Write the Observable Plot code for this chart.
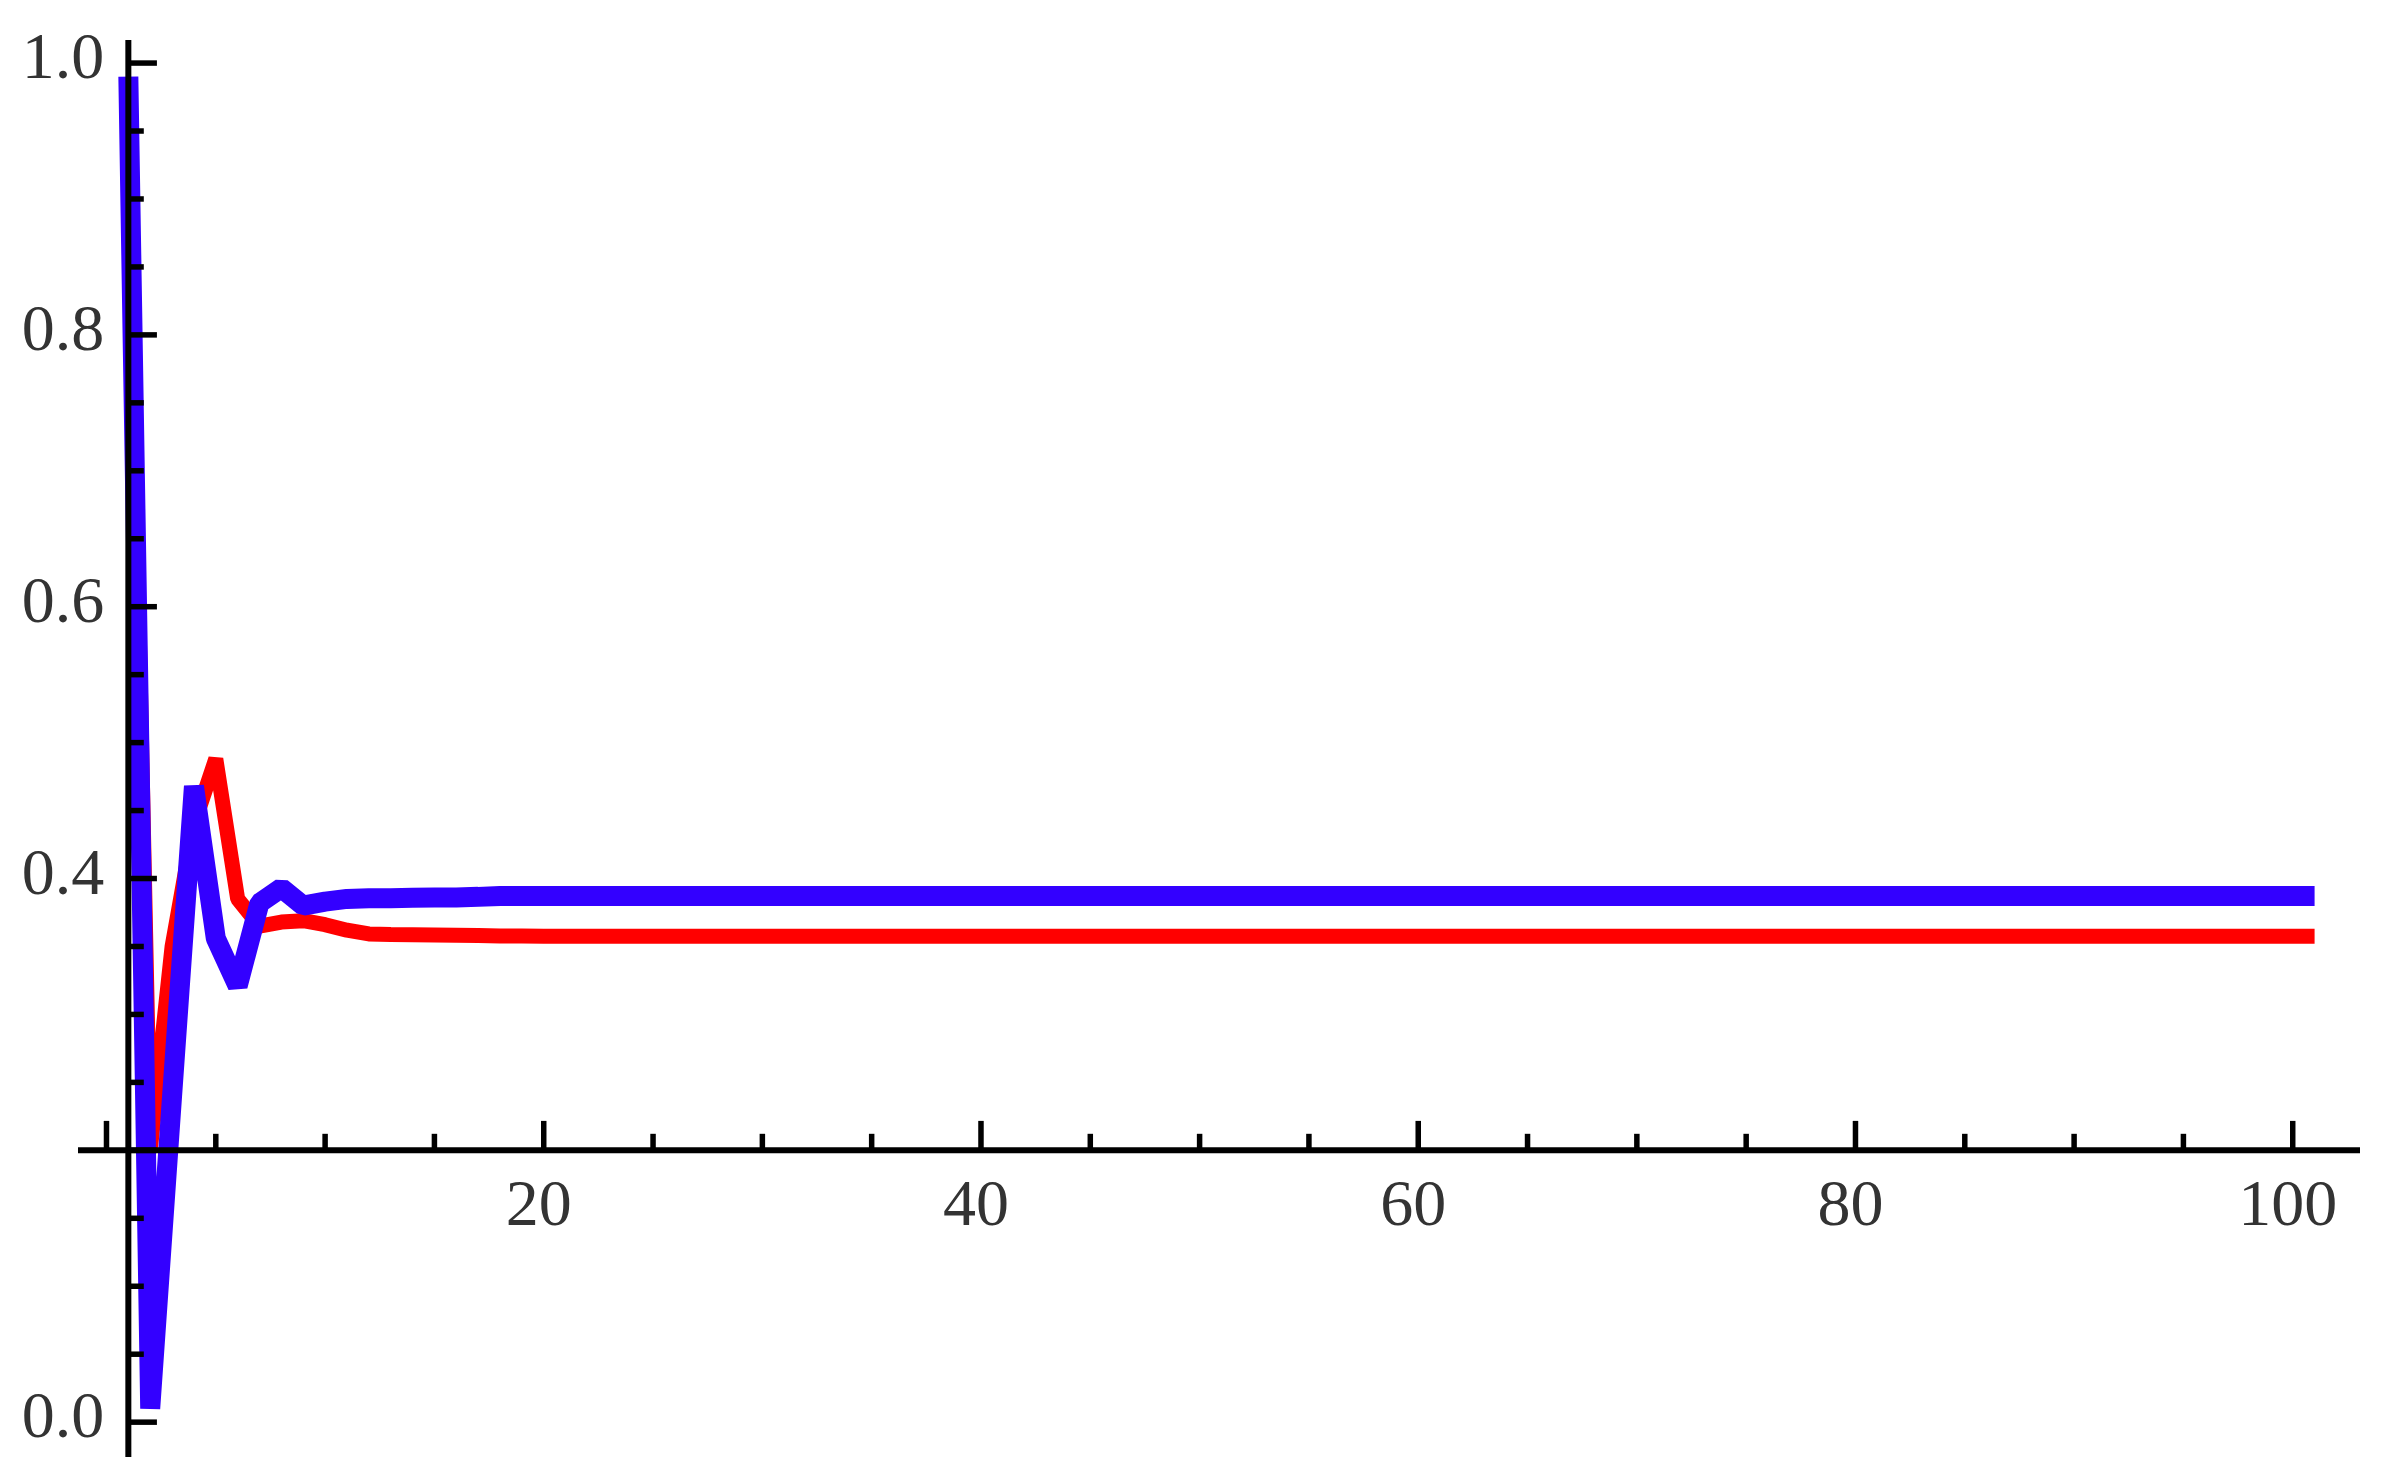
<!DOCTYPE html>
<html>
<head>
<meta charset="utf-8">
<script src="https://cdn.jsdelivr.net/npm/d3@7"></script>
<script src="https://cdn.jsdelivr.net/npm/@observablehq/plot@0.6"></script>
<style>
  html, body { margin: 0; padding: 0; background: #ffffff; }
  svg { display: block; }
</style>
</head>
<body>
<div id="chart"></div>
<script>
// Series values (index i corresponds to step i+1)
const blueSeries = [
  0.99, 0.01, 0.24, 0.468, 0.356, 0.321, 0.382, 0.393, 0.380, 0.383,
  0.385, 0.3855, 0.3855, 0.3858, 0.386, 0.386, 0.3865, 0.3872, 0.3872, 0.3872,
  0.3872, 0.3872, 0.3872, 0.3872, 0.3872, 0.3872, 0.3872, 0.3872, 0.3872, 0.3872,
  0.3872, 0.3872, 0.3872, 0.3872, 0.3872, 0.3872, 0.3872, 0.3872, 0.3872, 0.3872,
  0.3872, 0.3872, 0.3872, 0.3872, 0.3872, 0.3872, 0.3872, 0.3872, 0.3872, 0.3872,
  0.3872, 0.3872, 0.3872, 0.3872, 0.3872, 0.3872, 0.3872, 0.3872, 0.3872, 0.3872,
  0.3872, 0.3872, 0.3872, 0.3872, 0.3872, 0.3872, 0.3872, 0.3872, 0.3872, 0.3872,
  0.3872, 0.3872, 0.3872, 0.3872, 0.3872, 0.3872, 0.3872, 0.3872, 0.3872, 0.3872,
  0.3872, 0.3872, 0.3872, 0.3872, 0.3872, 0.3872, 0.3872, 0.3872, 0.3872, 0.3872,
  0.3872, 0.3872, 0.3872, 0.3872, 0.3872, 0.3872, 0.3872, 0.3872, 0.3872, 0.3872,
  0.3872
];
const redSeries = [
  0.96, 0.20, 0.35, 0.44, 0.488, 0.385, 0.365, 0.368, 0.369, 0.366,
  0.362, 0.3592, 0.3588, 0.3586, 0.3584, 0.3582, 0.3580, 0.3578, 0.3577, 0.3576,
  0.3575, 0.3575, 0.3575, 0.3575, 0.3575, 0.3575, 0.3575, 0.3575, 0.3575, 0.3575,
  0.3575, 0.3575, 0.3575, 0.3575, 0.3575, 0.3575, 0.3575, 0.3575, 0.3575, 0.3575,
  0.3575, 0.3575, 0.3575, 0.3575, 0.3575, 0.3575, 0.3575, 0.3575, 0.3575, 0.3575,
  0.3575, 0.3575, 0.3575, 0.3575, 0.3575, 0.3575, 0.3575, 0.3575, 0.3575, 0.3575,
  0.3575, 0.3575, 0.3575, 0.3575, 0.3575, 0.3575, 0.3575, 0.3575, 0.3575, 0.3575,
  0.3575, 0.3575, 0.3575, 0.3575, 0.3575, 0.3575, 0.3575, 0.3575, 0.3575, 0.3575,
  0.3575, 0.3575, 0.3575, 0.3575, 0.3575, 0.3575, 0.3575, 0.3575, 0.3575, 0.3575,
  0.3575, 0.3575, 0.3575, 0.3575, 0.3575, 0.3575, 0.3575, 0.3575, 0.3575, 0.3575,
  0.3575
];

// Axes origin and ticks
const axisOriginX = 1;
const axisOriginY = 0.2;
const xMajorTicks = [0, 20, 40, 60, 80, 100];
const xMinorTicks = [5, 10, 15, 25, 30, 35, 45, 50, 55, 65, 70, 75, 85, 90, 95];
const xTickLabels = [20, 40, 60, 80, 100];
const yMajorTicks = [0, 0.2, 0.4, 0.6, 0.8, 1.0];
const yMinorTicks = [0.05, 0.1, 0.15, 0.25, 0.3, 0.35, 0.45, 0.5, 0.55, 0.65, 0.7, 0.75, 0.85, 0.9, 0.95];
const yTickLabels = [0.0, 0.4, 0.6, 0.8, 1.0];

const blueData = blueSeries.map((v, i) => ({x: i + 1, y: v}));
const redData = redSeries.map((v, i) => ({x: i + 1, y: v}));

// tick lengths expressed in data units of the crossing axis
const xTickMajorLen = 0.0213, xTickMinorLen = 0.0118;
const yTickMajorLen = 1.33, yTickMinorLen = 0.73;

const labelFont = "Liberation Serif, Times New Roman, serif";
const labelColor = "#333333";

const chart = Plot.plot({
  width: 2390,
  height: 1477,
  marginLeft: 78,
  marginRight: 30,
  marginTop: 40,
  marginBottom: 20,
  style: {background: "#ffffff", overflow: "visible"},
  x: {domain: [-1.28, 103.1], axis: null},
  y: {domain: [-0.026, 1.0166], axis: null},
  marks: [
    Plot.lineY(redData, {x: "x", y: "y", stroke: "#ff0000", strokeWidth: 15, strokeLinejoin: "bevel", strokeLinecap: "butt"}),
    Plot.lineY(blueData, {x: "x", y: "y", stroke: "#3300ff", strokeWidth: 20, strokeLinejoin: "bevel", strokeLinecap: "butt"}),
    // axes lines
    Plot.ruleY([axisOriginY], {stroke: "#000", strokeWidth: 6}),
    Plot.ruleX([axisOriginX], {stroke: "#000", strokeWidth: 6}),
    // x ticks (pointing up, into plot)
    Plot.ruleX(xMajorTicks, {x: d => d, y1: axisOriginY, y2: axisOriginY + xTickMajorLen, stroke: "#000", strokeWidth: 5.5}),
    Plot.ruleX(xMinorTicks, {x: d => d, y1: axisOriginY, y2: axisOriginY + xTickMinorLen, stroke: "#000", strokeWidth: 5.5}),
    // y ticks (pointing right)
    Plot.ruleY(yMajorTicks, {y: d => d, x1: axisOriginX, x2: axisOriginX + yTickMajorLen, stroke: "#000", strokeWidth: 5.5}),
    Plot.ruleY(yMinorTicks, {y: d => d, x1: axisOriginX, x2: axisOriginX + yTickMinorLen, stroke: "#000", strokeWidth: 5.5}),
    // tick labels
    Plot.text(xTickLabels, {x: d => d, y: axisOriginY, text: d => String(d), dy: 54, dx: -5, fontSize: 66, fontFamily: labelFont, fill: labelColor, textAnchor: "middle"}),
    Plot.text(yTickLabels, {x: axisOriginX, y: d => d, text: d => d.toFixed(1), dx: -24, dy: -6, fontSize: 66, fontFamily: labelFont, fill: labelColor, textAnchor: "end"})
  ]
});

document.getElementById("chart").append(chart);
</script>
</body>
</html>
